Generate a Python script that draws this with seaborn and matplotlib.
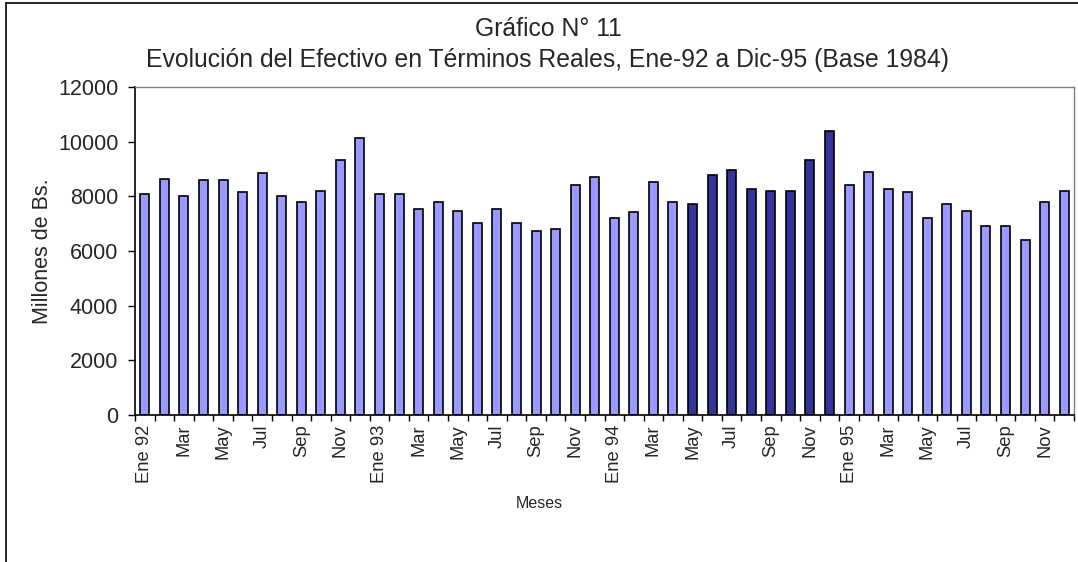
import numpy as np
import pandas as pd
import matplotlib
matplotlib.use("Agg")
import matplotlib.pyplot as plt
from matplotlib.lines import Line2D
import seaborn as sns

# ---- data ----
months = ["Ene", "Feb", "Mar", "Abr", "May", "Jun", "Jul", "Ago", "Sep", "Oct", "Nov", "Dic"]
years = [92, 93, 94, 95]
efectivo = [
    8080, 8650, 8020, 8590, 8590, 8160, 8840, 8020, 7780, 8210, 9340, 10150,   # 1992
    8080, 8080, 7520, 7780, 7480, 7020, 7520, 7020, 6720, 6790, 8400, 8710,     # 1993
    7220, 7410, 8520, 7790, 7710, 8780, 8960, 8270, 8210, 8210, 9340, 10390,    # 1994
    8400, 8890, 8270, 8160, 7220, 7710, 7480, 6900, 6900, 6420, 7790, 8210,     # 1995
]
highlight_start, highlight_end = "May 94", "Dic 94"
tick_labels = ["Ene 92", "Mar", "May", "Jul", "Sep", "Nov",
               "Ene 93", "Mar", "May", "Jul", "Sep", "Nov",
               "Ene 94", "Mar", "May", "Jul", "Sep", "Nov",
               "Ene 95", "Mar", "May", "Jul", "Sep", "Nov"]

periods = [f"{m} {y}" for y in years for m in months]
df = pd.DataFrame({"periodo": periods, "valor": efectivo})
i0, i1 = periods.index(highlight_start), periods.index(highlight_end)
light, dark = "#9999FF", "#333399"
palette = {p: (dark if i0 <= i <= i1 else light) for i, p in enumerate(periods)}

sns.set_theme(style="white")
plt.rcParams["font.family"] = ["Liberation Sans", "DejaVu Sans"]

fig = plt.figure(figsize=(10.78, 5.62), dpi=100)
ax = fig.add_axes([135 / 1078, 1 - 415 / 562, (1074 - 135) / 1078, (415 - 87) / 562])

sns.barplot(data=df, x="periodo", y="valor", hue="periodo", palette=palette,
            legend=False, width=0.46, edgecolor="black", linewidth=1.2, ax=ax,
            saturation=1)

ax.set_xlim(-0.5, len(periods) - 0.5)
ax.set_ylim(0, 12000)
ax.set_yticks(np.arange(0, 12001, 2000))
ax.set_yticklabels([str(v) for v in range(0, 12001, 2000)], fontsize=15.5)

ax.set_xticks(np.arange(0, len(periods), 2))
ax.set_xticklabels(tick_labels, rotation=90, fontsize=13.2, va="top")
ax.set_xticks(np.arange(-0.5, len(periods), 1), minor=True)
ax.tick_params(axis="x", which="major", length=0, pad=7)
ax.tick_params(axis="x", which="minor", length=4, width=1, color="black", direction="out", bottom=True)
ax.tick_params(axis="y", which="major", length=5, width=1, color="black", direction="out", left=True, pad=7)

ax.set_xlabel("")
ax.set_ylabel("")
for s in ["left", "bottom"]:
    ax.spines[s].set_color("black")
    ax.spines[s].set_linewidth(1.2)
for s in ["top", "right"]:
    ax.spines[s].set_color("#808080")
    ax.spines[s].set_linewidth(1.0)

fig.text(548 / 1078, 1 - 28.5 / 562, "Gráfico N° 11", ha="center", va="center", fontsize=17.8)
fig.text(548 / 1078, 1 - 60 / 562,
         "Evolución del Efectivo en Términos Reales, Ene-92 a Dic-95 (Base 1984)",
         ha="center", va="center", fontsize=17.8)
fig.text(43 / 1078, 1 - 251 / 562, "Millones de Bs.", rotation=90, ha="center", va="center", fontsize=15.5)
fig.text(539 / 1078, 1 - 504 / 562, "Meses", ha="center", va="center", fontsize=11.5)

# chart frame
fig.add_artist(Line2D([6 / 1078, 6 / 1078], [0, 1 - 3 / 562], color="black", lw=1.2, transform=fig.transFigure))
fig.add_artist(Line2D([6 / 1078, 1], [1 - 3 / 562, 1 - 3 / 562], color="black", lw=1.2, transform=fig.transFigure))

fig.savefig("out.png", dpi=100, facecolor="white")
